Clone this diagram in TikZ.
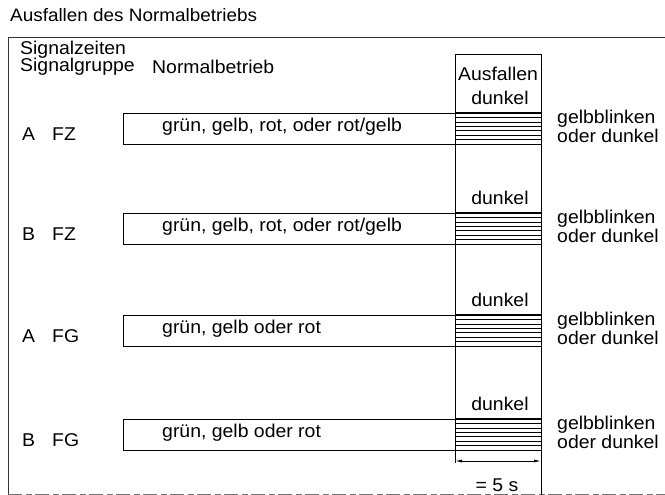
\documentclass[tikz,border=0pt]{standalone}
\usepackage{fontspec}
\setmainfont{Liberation Sans}[FakeStretch=1.05]
\usetikzlibrary{arrows.meta}
\begin{document}
\begin{tikzpicture}[x=1pt,y=-1pt,
  txt/.style={inner sep=0pt, font=\fontsize{18.5}{20}\selectfont},
  wtxt/.style={txt, anchor=west},
  rowbox/.style={draw, line width=0.9pt, minimum width=332pt, minimum height=31pt, anchor=north west, inner sep=0pt},
  frameline/.style={line width=0.9pt, draw=black!80},
  hatch/.style={line width=0.7pt},
  dim/.style={line width=0.8pt, {Latex[length=7pt,width=3pt]}-{Latex[length=7pt,width=3pt]}}
]
\useasboundingbox (0,0) rectangle (665,495);
% title and frame
\node[wtxt, font=\fontsize{18}{20}\selectfont] (title) at (10,15) {Ausfallen des Normalbetriebs};
\coordinate (ftr) at (665,37);
\coordinate (ftl) at (8,37);
\coordinate (fbl) at (8,495);
\draw[frameline] (ftr) -- (ftl) -- (fbl);
\coordinate (bl) at (8,494);
\coordinate (br) at (665,494);
\draw[line width=1pt, draw=black!55, dash pattern=on 14pt off 4pt on 6pt off 3pt] (bl) -- (br);
% header
\node[wtxt] (sz) at (20,50) {Signalzeiten};
\node[wtxt] (sg) at (20,67) {Signalgruppe};
\node[wtxt] (nb) at (152,67) {Normalbetrieb};
% Ausfallen column
\coordinate (cbl) at (455,463);
\coordinate (ctl) at (455,54);
\coordinate (ctr) at (541,54);
\coordinate (cbr) at (541,495);
\draw[line width=0.9pt] (cbl) -- (ctl) -- (ctr) -- (cbr);
\node[txt] (ausf) at (498,74) {Ausfallen};
% rows
\foreach \i/\yt/\grp/\sig/\txtr in {1/113/A/FZ/{grün, gelb, rot, oder rot/gelb},2/213/B/FZ/{grün, gelb, rot, oder rot/gelb},3/315/A/FG/{grün, gelb oder rot},4/419/B/FG/{grün, gelb oder rot}}{
  \node[rowbox] (box\i) at (123,\yt) {};
  \node[wtxt] (nt\i) at (162,\yt+14) {\txtr};
  \node[txt] (dk\i) at (500,\yt-15) {dunkel};
  \node[wtxt] (g\i) at (22,\yt+21) {\grp};
  \node[wtxt] (s\i) at (52,\yt+21) {\sig};
  \node[wtxt] (gb\i) at (557,\yt+6) {gelbblinken};
  \node[wtxt] (od\i) at (557,\yt+23) {oder dunkel};
  \draw[line width=1.4pt] (455,\yt) -- (541,\yt);
  \foreach \k in {1,...,7}{
    \draw[hatch] (455,\yt+\k*4.43) -- (541,\yt+\k*4.43);
  }
}
% dimension
\coordinate (da) at (455,461);
\coordinate (db) at (541,461);
\draw[dim] (da) -- (db);
\node[txt] (five) at (497,485) {= 5 s};
\end{tikzpicture}
\end{document}
